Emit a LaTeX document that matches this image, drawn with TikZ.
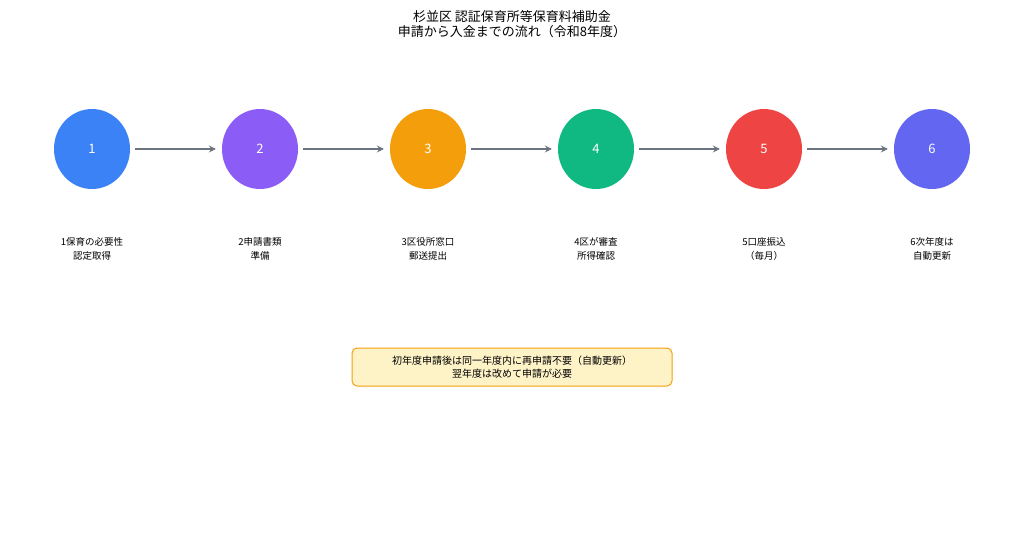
\documentclass[tikz,border=0pt]{standalone}
\usepackage{fontspec}
\setmainfont{Noto Sans CJK JP}
\usetikzlibrary{positioning,shapes.geometric}
\definecolor{cA}{HTML}{3B82F6}
\definecolor{cB}{HTML}{8B5CF6}
\definecolor{cC}{HTML}{F59E0B}
\definecolor{cD}{HTML}{10B981}
\definecolor{cE}{HTML}{EF4444}
\definecolor{cF}{HTML}{6366F1}
\definecolor{arrowgray}{HTML}{6B7280}
\definecolor{notefill}{HTML}{FEF3C7}
\definecolor{noteline}{HTML}{F59E0B}
\tikzset{
  stepnode/.style={ellipse,minimum width=76pt,minimum height=80pt,inner sep=0pt,text=white,font=\fontsize{13}{13}\selectfont},
  flow/.style={-stealth,line width=2pt,draw=arrowgray},
  steplabel/.style={align=center,font=\fontsize{9.5}{13.5}\selectfont},
}
\begin{document}
\begin{tikzpicture}[x=1pt,y=-1pt]
\useasboundingbox[fill=white] (0,0) rectangle (1024,550);
\node[align=center,font=\fontsize{13}{15}\selectfont] (title) at (512,24) {杉並区 認証保育所等保育料補助金\\申請から入金までの流れ（令和8年度）};
\foreach \n/\x/\c/\t in {1/92/cA/{1保育の必要性\\認定取得},2/260/cB/{2申請書類\\準備},3/428/cC/{3区役所窓口\\郵送提出},4/596/cD/{4区が審査\\所得確認},5/764/cE/{5口座振込\\（毎月）},6/932/cF/{6次年度は\\自動更新}} {
    \node[stepnode,fill=\c] (s\n) at (\x,149) {\n};
    \node[steplabel] (l\n) at (\x,249) {\t};
}
\foreach \a/\b in {1/2,2/3,3/4,4/5,5/6} {
    \draw[flow] ([xshift=5pt]s\a.east) -- ([xshift=-6pt]s\b.west);
}
\node[draw=noteline,fill=notefill,rounded corners=5pt,line width=1pt,minimum width=320pt,minimum height=38pt,align=center,font=\fontsize{10}{13.5}\selectfont] (note) at (512,367) {初年度申請後は同一年度内に再申請不要（自動更新）\\翌年度は改めて申請が必要};
\end{tikzpicture}
\end{document}
